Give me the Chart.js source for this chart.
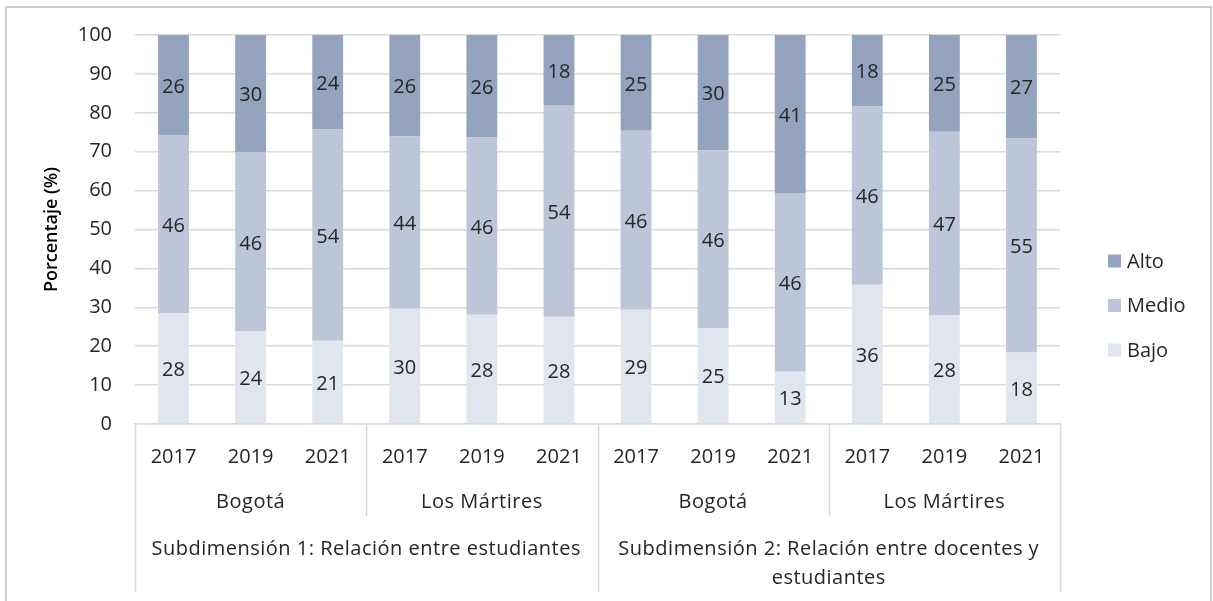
<!DOCTYPE html>
<html>
<head>
<meta charset="utf-8">
<script src="https://cdn.jsdelivr.net/npm/chart.js@4.4.0/dist/chart.umd.min.js"></script>
<style>
  html, body { margin: 0; padding: 0; background: #fff; }
  #contenedor { width: 1213px; height: 601px; position: relative; }
</style>
</head>
<body>
<div id="contenedor"><canvas id="grafico_clima"></canvas></div>
<script>
// años (nivel 1 del eje x)
var anos = ['2017', '2019', '2021', '2017', '2019', '2021', '2017', '2019', '2021', '2017', '2019', '2021'];
// localidades (nivel 2), cada una abarca 3 años
var localidades = ['Bogotá', 'Los Mártires', 'Bogotá', 'Los Mártires'];
// subdimensiones (nivel 3), cada una abarca 6 barras
var subdimensiones = [
    ['Subdimensión 1: Relación entre estudiantes'],
    ['Subdimensión 2: Relación entre docentes y', 'estudiantes']
];

// porcentajes
var bajo  = [28.4, 23.8, 21.4, 29.6, 28.1, 27.6, 29.4, 24.7, 13.4, 35.8, 28.0, 18.4];
var medio = [45.9, 46.0, 54.4, 44.4, 45.6, 54.4, 46.0, 45.7, 46.0, 45.8, 47.1, 55.0];
var alto  = [25.7, 30.2, 24.2, 26.0, 26.3, 18.0, 24.6, 29.6, 40.6, 18.4, 24.9, 26.6];

var colores = { bajo: '#E1E5ED', medio: '#BDC6D8', alto: '#94A3BE' };
var fuente = '"Open Sans", Lato, sans-serif';
var colorTexto = '#262626';

Chart.defaults.font.family = fuente;
Chart.defaults.font.size = 20;
Chart.defaults.color = colorTexto;

// fondo y borde exterior
var bordeExterior = {
    id: 'bordeExterior',
    beforeDraw: function (chart) {
        var ctx = chart.ctx;
        ctx.save();
        ctx.fillStyle = '#fff';
        ctx.fillRect(0, 0, chart.width, chart.height);
        ctx.strokeStyle = '#BFBFBF';
        ctx.lineWidth = 1.5;
        ctx.strokeRect(6, 7, chart.width - 8, chart.height + 10);
        ctx.restore();
    }
};

// números dentro de cada segmento
var etiquetasValores = {
    id: 'etiquetasValores',
    afterDatasetsDraw: function (chart) {
        var ctx = chart.ctx;
        ctx.save();
        ctx.font = '20px ' + fuente;
        ctx.fillStyle = colorTexto;
        ctx.textAlign = 'center';
        ctx.textBaseline = 'middle';
        chart.data.datasets.forEach(function (ds, i) {
            chart.getDatasetMeta(i).data.forEach(function (barra, j) {
                var y = (barra.y + barra.base) / 2 + 2;
                ctx.fillText(Math.round(ds.data[j]), barra.x, y);
            });
        });
        ctx.restore();
    }
};

// eje x de varios niveles: separadores, localidades y subdimensiones
var ejeAgrupado = {
    id: 'ejeAgrupado',
    afterDraw: function (chart) {
        var ctx = chart.ctx;
        var x = chart.scales.x;
        var area = chart.chartArea;
        var paso = x.getPixelForValue(1) - x.getPixelForValue(0);
        var borde = function (i) { return x.getPixelForValue(i) - paso / 2; };
        var base = area.bottom;

        ctx.save();
        ctx.strokeStyle = '#D9D9D9';
        ctx.lineWidth = 1.5;
        for (var i = 0; i <= anos.length; i += 3) {
            var largo = (i % 6 === 0) ? 168 : 92;
            var px = Math.round(borde(i)) + 0.5;
            ctx.beginPath();
            ctx.moveTo(px, base);
            ctx.lineTo(px, base + largo);
            ctx.stroke();
        }

        ctx.font = '20px ' + fuente;
        ctx.letterSpacing = '0.5px';
        ctx.fillStyle = colorTexto;
        ctx.textAlign = 'center';
        ctx.textBaseline = 'middle';
        localidades.forEach(function (nombre, k) {
            var cx = (borde(k * 3) + borde(k * 3 + 3)) / 2;
            ctx.fillText(nombre, cx, base + 78);
        });
        subdimensiones.forEach(function (lineas, k) {
            var cx = (borde(k * 6) + borde(k * 6 + 6)) / 2;
            lineas.forEach(function (linea, n) {
                ctx.fillText(linea, cx, base + 125 + n * 29);
            });
        });
        ctx.restore();
    }
};

// leyenda a la derecha (Alto, Medio, Bajo)
var leyenda = {
    id: 'leyenda',
    afterDraw: function (chart) {
        var ctx = chart.ctx;
        var area = chart.chartArea;
        var orden = chart.data.datasets.slice().reverse();
        var x0 = area.right + 48;
        var yc = chart.height / 2 + 5;
        ctx.save();
        ctx.font = '20px ' + fuente;
        ctx.textAlign = 'left';
        ctx.textBaseline = 'middle';
        orden.forEach(function (ds, i) {
            var y = yc + (i - 1) * 44.5;
            ctx.fillStyle = ds.backgroundColor;
            ctx.fillRect(x0, y - 6.5, 13, 13);
            ctx.fillStyle = colorTexto;
            ctx.fillText(ds.label, x0 + 19, y + 1);
        });
        ctx.restore();
    }
};

var ctx_clima = document.getElementById('grafico_clima').getContext('2d');

var grafico_clima = new Chart(ctx_clima, {
    type: 'bar',
    data: {
        labels: anos,
        datasets: [
            { label: 'Bajo', data: bajo, backgroundColor: colores.bajo },
            { label: 'Medio', data: medio, backgroundColor: colores.medio },
            { label: 'Alto', data: alto, backgroundColor: colores.alto }
        ]
    },
    options: {
        responsive: true,
        maintainAspectRatio: false,
        animation: false,
        barPercentage: 0.4,
        categoryPercentage: 1,
        layout: {
            padding: { top: 24, left: 30, right: 153, bottom: 0 }
        },
        scales: {
            x: {
                stacked: true,
                grid: { display: false, drawTicks: false },
                border: { display: true, color: '#D9D9D9', width: 1.5 },
                ticks: { padding: 21, maxRotation: 0, autoSkip: false, color: colorTexto },
                afterFit: function (scale) { scale.height = 177; }
            },
            y: {
                stacked: true,
                min: 0,
                max: 100,
                ticks: { stepSize: 10, padding: 23, color: colorTexto },
                grid: { color: '#D9D9D9', lineWidth: 1.5, drawTicks: false },
                border: { display: false },
                title: {
                    display: true,
                    text: 'Porcentaje (%)',
                    color: '#000',
                    font: { size: 18, weight: '600' },
                    padding: { top: 11, bottom: 0 }
                },
                afterFit: function (scale) { scale.width = 105; }
            }
        },
        plugins: {
            legend: { display: false },
            tooltip: { enabled: false }
        }
    },
    plugins: [bordeExterior, etiquetasValores, ejeAgrupado, leyenda]
});
</script>
</body>
</html>
